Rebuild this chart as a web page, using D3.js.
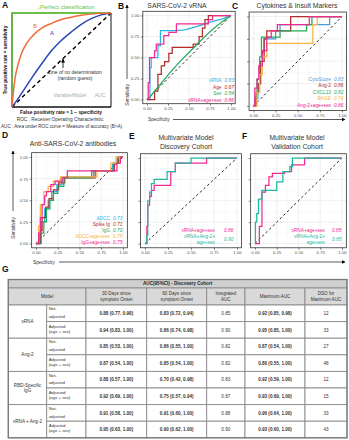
<!DOCTYPE html>
<html><head><meta charset="utf-8">
<script src="https://cdn.jsdelivr.net/npm/d3@7"></script>
<style>
body{margin:0;background:#fff}
svg{display:block;font-family:'Liberation Sans',Arial,sans-serif}
</style></head>
<body><svg id="c" width="349" height="440"></svg>
<script>
// ---------- DATA ----------
const tickValues = [0, 0.25, 0.5, 0.75, 1];
// Panel A schematic curves [FPR, TPR]
const schemCurveB = [[0,0],[0.01,0.12],[0.03,0.3],[0.06,0.45],[0.1,0.58],[0.15,0.68],[0.22,0.77],[0.3,0.84],[0.4,0.89],[0.5,0.93],[0.6,0.955],[0.7,0.975],[0.8,0.988],[0.9,0.996],[1,1]];
const schemCurveA = [[0,0],[0.05,0.07],[0.1,0.15],[0.15,0.23],[0.2,0.31],[0.3,0.46],[0.4,0.6],[0.5,0.71],[0.6,0.8],[0.7,0.88],[0.8,0.94],[0.9,0.98],[1,1]];
const perfectLine = [[0,0],[0,1],[1,1]];

// Panel B: SARS-CoV-2 vRNA
const bLabels = ["vRNA","Age","Sex","vRNA+age+sex"];
const bAUC = ["0.83","0.67","0.54","0.86"];
const bVRNA = [[0,0],[0.035,0],[0.035,0.38],[0.05,0.38],[0.05,0.5],[0.13,0.5],[0.13,0.64],[0.16,0.64],[0.16,0.82],[0.35,0.82],[0.45,0.83],[0.6,0.87],[0.75,0.92],[0.9,0.96],[1,1]];
const bAge = [[0,0],[0.09,0],[0.09,0.1],[0.13,0.1],[0.13,0.3],[0.17,0.3],[0.17,0.4],[0.21,0.4],[0.21,0.45],[0.26,0.45],[0.26,0.55],[0.3,0.55],[0.3,0.62],[0.55,0.62],[0.55,0.66],[0.62,0.66],[0.62,0.75],[0.66,0.75],[0.66,0.85],[0.69,0.85],[0.69,0.95],[0.73,0.95],[0.73,1],[1,1]];
const bSex = [[0,0],[0.03,0.02],[0.06,0.06],[0.1,0.11],[0.2,0.23],[0.3,0.35],[0.4,0.46],[0.5,0.56],[0.6,0.66],[0.7,0.76],[0.8,0.85],[0.9,0.93],[1,1]];
const bCombo = [[0,0],[0.015,0],[0.015,0.2],[0.03,0.2],[0.03,0.5],[0.09,0.5],[0.09,0.58],[0.11,0.58],[0.11,0.66],[0.2,0.66],[0.2,0.76],[0.26,0.76],[0.26,0.8],[0.35,0.8],[0.35,0.9],[0.73,0.9],[0.73,0.95],[0.78,0.95],[0.78,1],[1,1]];

// Panel C: Cytokines & Insult Markers
const cLabels = ["CytoScore","Ang-2","CXCL13","RAGE","Ang-2+age+sex"];
const cAUC = ["0.83","0.86","0.82","0.74","0.86"];
const cCyto = [[0,0],[0.02,0],[0.02,0.08],[0.05,0.08],[0.05,0.25],[0.08,0.25],[0.08,0.45],[0.1,0.45],[0.1,0.6],[0.12,0.6],[0.12,0.75],[0.25,0.75],[0.25,0.84],[0.3,0.84],[0.3,0.91],[0.86,0.91],[0.86,1],[1,1]];
const cAng2 = [[0,0],[0.03,0],[0.03,0.15],[0.06,0.15],[0.06,0.25],[0.08,0.25],[0.08,0.5],[0.12,0.5],[0.12,0.75],[0.15,0.75],[0.15,0.84],[0.42,0.84],[0.42,1],[1,1]];
const cCXCL13 = [[0,0],[0.02,0],[0.02,0.1],[0.04,0.1],[0.04,0.3],[0.07,0.3],[0.07,0.55],[0.09,0.55],[0.09,0.77],[0.3,0.77],[0.3,0.84],[0.6,0.84],[0.6,0.91],[0.66,0.91],[0.66,1],[1,1]];
const cRAGE = [[0,0],[0.04,0],[0.04,0.15],[0.07,0.15],[0.07,0.35],[0.1,0.35],[0.1,0.55],[0.15,0.55],[0.15,0.7],[0.67,0.7],[0.67,0.91],[0.72,0.91],[0.72,1],[1,1]];
const cCombo = [[0,0],[0.015,0],[0.015,0.2],[0.04,0.2],[0.04,0.3],[0.06,0.3],[0.06,0.45],[0.1,0.45],[0.1,0.62],[0.15,0.62],[0.15,0.77],[0.2,0.77],[0.2,0.84],[0.27,0.84],[0.27,0.91],[0.63,0.91],[0.63,1],[1,1]];

// Panel D: Anti-SARS-CoV-2 antibodies
const dLabels = ["ADCC","Spike Ig","IgG","ADCC+age+sex","IgG+age+sex"];
const dAUC = ["0.73","0.71","0.70","0.75","0.75"];
const dADCC = [[0,0],[0.04,0],[0.04,0.1],[0.06,0.1],[0.06,0.25],[0.1,0.25],[0.1,0.4],[0.14,0.4],[0.14,0.5],[0.18,0.5],[0.18,0.6],[0.24,0.6],[0.24,0.68],[0.3,0.68],[0.3,0.77],[0.66,0.77],[0.66,0.84],[0.88,0.84],[0.88,0.92],[0.93,0.92],[0.93,1],[1,1]];
const dSpike = [[0,0],[0.05,0],[0.05,0.15],[0.07,0.15],[0.07,0.3],[0.11,0.3],[0.11,0.42],[0.15,0.42],[0.15,0.52],[0.2,0.52],[0.2,0.62],[0.26,0.62],[0.26,0.7],[0.33,0.7],[0.33,0.76],[0.68,0.76],[0.68,0.84],[0.9,0.84],[0.9,0.93],[0.95,0.93],[0.95,1],[1,1]];
const dIgG = [[0,0],[0.06,0],[0.06,0.12],[0.09,0.12],[0.09,0.25],[0.12,0.25],[0.12,0.4],[0.16,0.4],[0.16,0.5],[0.2,0.5],[0.2,0.58],[0.25,0.58],[0.25,0.66],[0.32,0.66],[0.32,0.76],[0.64,0.76],[0.64,0.84],[0.89,0.84],[0.89,0.93],[0.94,0.93],[0.94,1],[1,1]];
const dADCCcombo = [[0,0],[0.03,0],[0.03,0.2],[0.05,0.2],[0.05,0.45],[0.09,0.45],[0.09,0.6],[0.14,0.6],[0.14,0.66],[0.2,0.66],[0.2,0.72],[0.28,0.72],[0.28,0.77],[0.7,0.77],[0.7,0.84],[0.86,0.84],[0.86,0.93],[0.92,0.93],[0.92,1],[1,1]];
const dIgGcombo = [[0,0],[0.03,0],[0.03,0.12],[0.05,0.12],[0.05,0.3],[0.07,0.3],[0.07,0.45],[0.1,0.45],[0.1,0.55],[0.12,0.55],[0.12,0.6],[0.17,0.6],[0.17,0.68],[0.22,0.68],[0.22,0.72],[0.3,0.72],[0.3,0.76],[0.36,0.76],[0.36,0.84],[0.93,0.84],[0.93,0.93],[0.97,0.93],[0.97,1],[1,1]];

// Panel E: Multivariate Model, Discovery Cohort
const eLabels = ["vRNA+age+sex","vRNA+Ang-2+\nage+sex"];
const eAUC = ["0.86","0.90"];
const eVRNA = [[0,0],[0.02,0],[0.02,0.2],[0.03,0.2],[0.03,0.45],[0.05,0.45],[0.05,0.55],[0.07,0.55],[0.07,0.62],[0.1,0.62],[0.1,0.68],[0.28,0.68],[0.28,0.84],[0.33,0.84],[0.33,0.94],[0.67,0.94],[0.67,1],[1,1]];
const eCombo = [[0,0],[0.02,0],[0.02,0.1],[0.03,0.1],[0.03,0.5],[0.05,0.5],[0.05,0.6],[0.07,0.6],[0.07,0.7],[0.1,0.7],[0.1,0.75],[0.24,0.75],[0.24,0.84],[0.33,0.84],[0.33,0.94],[0.5,0.94],[0.5,1],[1,1]];

// Panel F: Multivariate Model, Validation Cohort
const fLabels = ["vRNA+age+sex","vRNA+Ang-2+\nage+sex"];
const fAUC = ["0.85","0.85"];
const fVRNA = [[0,0],[0.05,0],[0.05,0.2],[0.08,0.2],[0.08,0.6],[0.12,0.6],[0.12,0.68],[0.16,0.68],[0.16,0.78],[0.2,0.78],[0.2,0.82],[0.34,0.82],[0.34,0.84],[0.42,0.84],[0.42,0.92],[0.57,0.92],[0.57,1],[1,1]];
const fCombo = [[0,0],[0.005,0],[0.005,0.25],[0.02,0.25],[0.02,0.35],[0.04,0.35],[0.04,0.52],[0.08,0.52],[0.08,0.62],[0.25,0.62],[0.25,0.72],[0.32,0.72],[0.32,0.84],[0.4,0.84],[0.4,0.9],[0.43,0.9],[0.43,1],[1,1]];

// Table G
const tableTitle = "AUC(95%CI) - Discovery Cohort";
const tableHeaders = ["Model","30 Days since\nsymptom Onset","60 Days since\nsymptom Onset","Integrated\nAUC","Maximum AUC","DSO for\nMaximum AUC"];
const models = ["vRNA","Ang-2","RBD-Specific\nIgG","vRNA + Ang-2"];
const adjustments = ["Not-\nadjusted","Adjusted\n(age + sex)"];
const auc30 = ["0.88 (0.77, 0.98)","0.94 (0.83, 1.00)","0.85 (0.53, 1.00)","0.87 (0.54, 1.00)","0.88 (0.57, 1.00)","0.92 (0.69, 1.00)","0.91 (0.58, 1.00)","0.95 (0.63, 1.00)"];
const auc60 = ["0.83 (0.72, 0.94)","0.86 (0.74, 0.98)","0.86 (0.55, 1.00)","0.85 (0.54, 1.00)","0.70 (0.42, 0.98)","0.75 (0.57, 0.94)","0.91 (0.60, 1.00)","0.90 (0.62, 1.00)"];
const integratedAUC = ["0.85","0.90","0.82","0.82","0.83","0.87","0.88","0.90"];
const maximumAUC = ["0.92 (0.85, 0.98)","0.95 (0.85, 1.00)","0.87 (0.54, 1.00)","0.86 (0.55, 1.00)","0.92 (0.59, 1.00)","0.93 (0.69, 1.00)","0.96 (0.64, 1.00)","0.93 (0.60, 1.00)"];
const dsoMax = ["12","33","27","48","12","15","33","43"];

// ---------- DRAW ----------
const svg = d3.select("#c");
const COL = {cyan:"#2bb3e6", red:"#b52b2b", green:"#22a95a", pink:"#ef2a90", orange:"#f9b445", blue:"#4a9bdb", teal:"#1db8a4"};
const txtCol = "#333";

svg.append("defs").html(
 '<marker id="ah" viewBox="0 0 10 10" refX="9" refY="5" markerWidth="5" markerHeight="5" orient="auto-start-reverse"><path d="M0,0L10,5L0,10z" fill="#000"/></marker>');

function panelLetter(t,x,y){svg.append("text").attr("x",x).attr("y",y).attr("font-size",8.5).attr("font-weight","bold").attr("fill","#111").text(t);}

// ---- Panel A ----
(function(){
  const x = d3.scaleLinear().domain([0,1]).range([12,111]);
  const y = d3.scaleLinear().domain([0,1]).range([107,13]);
  const g = svg.append("g");
  panelLetter("A",2,8);
  g.append("line").attr("x1",x(1)).attr("x2",x(1)).attr("y1",y(0)).attr("y2",y(1)).attr("stroke","#111").attr("stroke-width",1);
  g.append("line").attr("x1",x(0)).attr("x2",x(1)).attr("y1",y(0)).attr("y2",y(0)).attr("stroke","#111").attr("stroke-width",1.6);
  g.append("line").attr("x1",x(0)).attr("x2",x(0)).attr("y1",y(0)).attr("y2",y(1)).attr("stroke","#111").attr("stroke-width",1.6);
  g.append("line").attr("x1",x(0)).attr("y1",y(0)).attr("x2",x(1)).attr("y2",y(1)).attr("stroke","#000").attr("stroke-width",1.4).attr("stroke-dasharray","4,3");
  const line = d3.line().x(d=>x(d[0])).y(d=>y(d[1])).curve(d3.curveMonotoneX);
  g.append("path").attr("d",d3.line().x(d=>x(d[0])).y(d=>y(d[1]))(perfectLine)).attr("fill","none").attr("stroke","#6cc04a").attr("stroke-width",1.8);
  g.append("path").attr("d",line(schemCurveA)).attr("fill","none").attr("stroke","#2a48b8").attr("stroke-width",1.5);
  g.append("path").attr("d",line(schemCurveB)).attr("fill","none").attr("stroke","#f26b3a").attr("stroke-width",1.5);
  g.append("text").attr("x",33).attr("y",28).attr("font-size",6).attr("fill","#f26b3a").text("B");
  g.append("text").attr("x",50).attr("y",35).attr("font-size",6).attr("fill","#2a48b8").text("A");
  g.append("text").attr("x",37).attr("y",9).attr("font-size",6).attr("fill","#6cc04a").text("\u2193Perfect classification");
  g.append("line").attr("x1",63).attr("y1",68).attr("x2",63).attr("y2",59).attr("stroke","#000").attr("stroke-width",0.8).attr("marker-end","url(#ah)");
  g.append("text").attr("x",75).attr("y",74).attr("font-size",5).attr("text-anchor","middle").attr("fill",txtCol).text("Line of no determination");
  g.append("text").attr("x",75).attr("y",80).attr("font-size",5).attr("text-anchor","middle").attr("fill",txtCol).text("(random guess)");
  g.append("text").attr("x",70).attr("y",97).attr("font-size",5).attr("text-anchor","middle").attr("fill","#aaa").text("Variable/Model");
  g.append("text").attr("x",100).attr("y",97).attr("font-size",5).attr("text-anchor","middle").attr("fill","#aaa").text("AUC");
  g.append("text").attr("transform","translate(7,60) rotate(-90)").attr("font-size",4.8).attr("font-weight","bold").attr("text-anchor","middle").attr("fill","#111").text("True positive rate = sensitivity");
  g.append("text").attr("x",61).attr("y",113.5).attr("font-size",4.8).attr("font-weight","bold").attr("text-anchor","middle").attr("fill","#111").text("False positivity rate = 1 \u2212 specificity");
  g.append("text").attr("x",60).attr("y",121).attr("font-size",4.8).attr("text-anchor","middle").attr("fill",txtCol).text("ROC : Receiver Operating Characteristic");
  g.append("text").attr("x",1).attr("y",128).attr("font-size",4.6).attr("text-anchor","start").attr("fill",txtCol).text("AUC : Area under ROC curve = Measure of accuracy (B>A)");
})();

// ---- ROC panel helper ----
function rocPanel(cfg){
  const x = d3.scaleLinear().domain([0,1]).range([cfg.x0,cfg.x1]);
  const y = d3.scaleLinear().domain([0,1]).range([cfg.y0,cfg.y1]);
  const ex = (cfg.x1-cfg.x0)*0.05, ey = (cfg.y0-cfg.y1)*0.05;
  const bx0 = cfg.x0-ex, bx1 = cfg.x1+ex, by0 = cfg.y0+ey, by1 = cfg.y1-ey;
  const g = svg.append("g");
  g.append("rect").attr("x",bx0).attr("y",by1).attr("width",bx1-bx0).attr("height",by0-by1).attr("fill","#fff");
  const minor = [0.125,0.375,0.625,0.875];
  minor.forEach(v=>{
    g.append("line").attr("x1",x(v)).attr("x2",x(v)).attr("y1",by0).attr("y2",by1).attr("stroke","#f3f3f3").attr("stroke-width",0.4);
    g.append("line").attr("y1",y(v)).attr("y2",y(v)).attr("x1",bx0).attr("x2",bx1).attr("stroke","#f3f3f3").attr("stroke-width",0.4);
  });
  tickValues.forEach(v=>{
    g.append("line").attr("x1",x(v)).attr("x2",x(v)).attr("y1",by0).attr("y2",by1).attr("stroke","#e6e6e6").attr("stroke-width",0.6);
    g.append("line").attr("y1",y(v)).attr("y2",y(v)).attr("x1",bx0).attr("x2",bx1).attr("stroke","#e6e6e6").attr("stroke-width",0.6);
  });
  g.append("line").attr("x1",x(0)).attr("y1",y(0)).attr("x2",x(1)).attr("y2",y(1)).attr("stroke","#111").attr("stroke-width",0.9).attr("stroke-dasharray","2.5,2.5");
  const line = d3.line().x(d=>x(d[0])).y(d=>y(d[1]));
  cfg.curves.forEach(c=>{
    g.append("path").attr("d",line(c.pts)).attr("fill","none").attr("stroke",c.color).attr("stroke-width",1.25).attr("stroke-linejoin","miter");
  });
  g.append("rect").attr("x",bx0).attr("y",by1).attr("width",bx1-bx0).attr("height",by0-by1).attr("fill","none").attr("stroke","#333").attr("stroke-width",0.8);
  const ax = g.append("g").attr("transform",`translate(0,${by0})`).call(d3.axisBottom(x).tickValues(tickValues).tickFormat(d3.format(".2f")).tickSize(2).tickPadding(1.5));
  const ay = g.append("g").attr("transform",`translate(${bx0},0)`).call(d3.axisLeft(y).tickValues(tickValues).tickFormat(cfg.yLabels?d3.format(".2f"):"").tickSize(2).tickPadding(1.5));
  [ax,ay].forEach(a=>{
    a.select(".domain").remove();
    a.selectAll("line").attr("stroke","#333").attr("stroke-width",0.6);
    a.selectAll("text").attr("font-size",4.3).attr("fill","#4d4d4d").attr("font-family","'Liberation Sans',Arial,sans-serif");
  });
  cfg.title.forEach((t,i)=>{
    g.append("text").attr("x",cfg.tx).attr("y",cfg.ty+i*8.5).attr("text-anchor","middle").attr("font-size",6.8).attr("fill","#333").text(t);
  });
  let yy = cfg.ly;
  cfg.labels.forEach((lab,i)=>{
    const lines = lab.split("\n");
    const col = cfg.curves[i].color;
    lines.forEach((ln,j)=>{
      g.append("text").attr("x",cfg.lx).attr("y",yy+j*cfg.ldy).attr("text-anchor","end").attr("font-size",4.8).attr("fill",col).text(ln);
    });
    g.append("text").attr("x",cfg.vx).attr("y",yy+(lines.length-1)*cfg.ldy/2).attr("font-size",4.8).attr("font-style","italic").attr("fill",col).text(cfg.aucs[i]);
    yy += lines.length*cfg.ldy;
  });
}

panelLetter("B",118,9);
rocPanel({x0:147,x1:231,y0:99.5,y1:15.5,yLabels:true,title:["SARS-CoV-2 vRNA"],tx:177,ty:8,
  curves:[{pts:bVRNA,color:COL.cyan},{pts:bAge,color:COL.red},{pts:bSex,color:COL.green},{pts:bCombo,color:COL.pink}],
  labels:bLabels,aucs:bAUC,lx:221.5,vx:224.5,ly:82,ldy:6.6});
panelLetter("C",232,9);
rocPanel({x0:253.5,x1:342,y0:106,y1:16.5,yLabels:false,title:["Cytokines & Insult Markers"],tx:297,ty:8,
  curves:[{pts:cCyto,color:COL.blue},{pts:cAng2,color:COL.red},{pts:cCXCL13,color:COL.green},{pts:cRAGE,color:COL.orange},{pts:cCombo,color:COL.pink}],
  labels:cLabels,aucs:cAUC,lx:331,vx:334,ly:80.5,ldy:6.6});
panelLetter("D",2,138);
rocPanel({x0:36,x1:123,y0:243.5,y1:157,yLabels:true,title:["Anti-SARS-CoV-2 antibodies"],tx:73,ty:146,
  curves:[{pts:dADCC,color:COL.cyan},{pts:dSpike,color:COL.red},{pts:dIgG,color:COL.green},{pts:dADCCcombo,color:COL.orange},{pts:dIgGcombo,color:COL.pink}],
  labels:dLabels,aucs:dAUC,lx:110,vx:113,ly:220,ldy:6});
panelLetter("E",129,139);
rocPanel({x0:145,x1:237,y0:243.5,y1:158,yLabels:false,title:["Multivariate Model","Discovery Cohort"],tx:186,ty:140,
  curves:[{pts:eVRNA,color:COL.pink},{pts:eCombo,color:COL.teal}],
  labels:eLabels,aucs:eAUC,lx:215,vx:224,ly:231.5,ldy:6});
panelLetter("F",242,139);
rocPanel({x0:255,x1:342,y0:243.5,y1:158,yLabels:false,title:["Multivariate Model","Validation Cohort"],tx:297,ty:140,
  curves:[{pts:fVRNA,color:COL.pink},{pts:fCombo,color:COL.teal}],
  labels:fLabels,aucs:fAUC,lx:325,vx:332,ly:231.5,ldy:6});

function sensArrow(xp, yTop, yLineEnd, yText){
  svg.append("line").attr("x1",xp).attr("x2",xp).attr("y1",yLineEnd).attr("y2",yTop).attr("stroke","#111").attr("stroke-width",0.7).attr("marker-end","url(#ah)");
  svg.append("text").attr("transform",`translate(${xp+1.7},${yText}) rotate(-90)`).attr("text-anchor","middle").attr("font-size",4.8).attr("fill","#333").text("Sensitivity");
}
sensArrow(127,5,79,95);
sensArrow(13,151,211,228);
function specArrow(xt, y, x1, x2){
  svg.append("text").attr("x",xt).attr("y",y+1.7).attr("font-size",4.8).attr("fill","#333").text("Specificity");
  svg.append("line").attr("x1",x1).attr("x2",x2).attr("y1",y).attr("y2",y).attr("stroke","#111").attr("stroke-width",0.7).attr("marker-end","url(#ah)");
}
specArrow(148,119.5,173,345);
specArrow(33,262,59,345);

// ---- Table G ----
panelLetter("G",2,272);
(function(){
  const cols = [8.3,46.7,86,146.7,206.7,245,305,347];
  const top = 279.5, titleH = 8.5, headH = 17, rowH = 16.6;
  const g = svg.append("g");
  const fs = 4.6;
  g.append("rect").attr("x",cols[0]).attr("y",top).attr("width",cols[7]-cols[0]).attr("height",titleH).attr("fill","#cfcfcf").attr("stroke","#8a8a8a").attr("stroke-width",0.9);
  g.append("text").attr("x",(cols[0]+cols[7])/2).attr("y",top+titleH/2+1.7).attr("text-anchor","middle").attr("font-size",fs).attr("font-weight","bold").attr("fill","#222").text(tableTitle);
  const hy = top+titleH;
  const headerSpans = [[0,2],[2,3],[3,4],[4,5],[5,6],[6,7]];
  headerSpans.forEach((s,i)=>{
    g.append("rect").attr("x",cols[s[0]]).attr("y",hy).attr("width",cols[s[1]]-cols[s[0]]).attr("height",headH).attr("fill","#d9d9d9").attr("stroke","#8a8a8a").attr("stroke-width",0.9);
    const lines = tableHeaders[i].split("\n");
    lines.forEach((ln,j)=>{
      g.append("text").attr("x",(cols[s[0]]+cols[s[1]])/2).attr("y",hy+headH/2+1.6+(j-(lines.length-1)/2)*5.4).attr("text-anchor","middle").attr("font-size",fs).attr("fill","#333").text(ln);
    });
  });
  const dy0 = hy+headH;
  const colsData = [auc30,auc60,integratedAUC,maximumAUC,dsoMax];
  const boldCol = [true,true,false,true,false];
  models.forEach((m,mi)=>{
    const gy = dy0+mi*2*rowH;
    g.append("rect").attr("x",cols[0]).attr("y",gy).attr("width",cols[1]-cols[0]).attr("height",2*rowH).attr("fill","#fff").attr("stroke","#8a8a8a").attr("stroke-width",0.9);
    const ml = m.split("\n");
    ml.forEach((ln,j)=>{
      g.append("text").attr("x",(cols[0]+cols[1])/2).attr("y",gy+rowH+1.6+(j-(ml.length-1)/2)*5.2).attr("text-anchor","middle").attr("font-size",fs).attr("fill","#333").text(ln);
    });
    adjustments.forEach((a,ai)=>{
      const ry = gy+ai*rowH, r = mi*2+ai;
      g.append("rect").attr("x",cols[1]).attr("y",ry).attr("width",cols[2]-cols[1]).attr("height",rowH).attr("fill","#fff").attr("stroke","#8a8a8a").attr("stroke-width",0.9);
      const al = a.split("\n");
      al.forEach((ln,j)=>{
        const yy = ai===0 ? ry+5.2+j*7.8 : ry+6+j*5.2;
        g.append("text").attr("x",cols[1]+2).attr("y",yy).attr("font-size",fs-0.3).attr("fill","#333").text(ln);
      });
      colsData.forEach((arr,ci)=>{
        g.append("rect").attr("x",cols[ci+2]).attr("y",ry).attr("width",cols[ci+3]-cols[ci+2]).attr("height",rowH).attr("fill","#fff").attr("stroke","#8a8a8a").attr("stroke-width",0.9);
        g.append("text").attr("x",(cols[ci+2]+cols[ci+3])/2).attr("y",ry+rowH/2+1.6).attr("text-anchor","middle").attr("font-size",fs).attr("font-weight",boldCol[ci]?"bold":"normal").attr("fill","#333").text(arr[r]);
      });
    });
  });
  g.append("rect").attr("x",cols[0]).attr("y",top).attr("width",cols[7]-cols[0]).attr("height",dy0+8*rowH-top).attr("fill","none").attr("stroke","#7a7a7a").attr("stroke-width",1.3);
})();
</script></body></html>
